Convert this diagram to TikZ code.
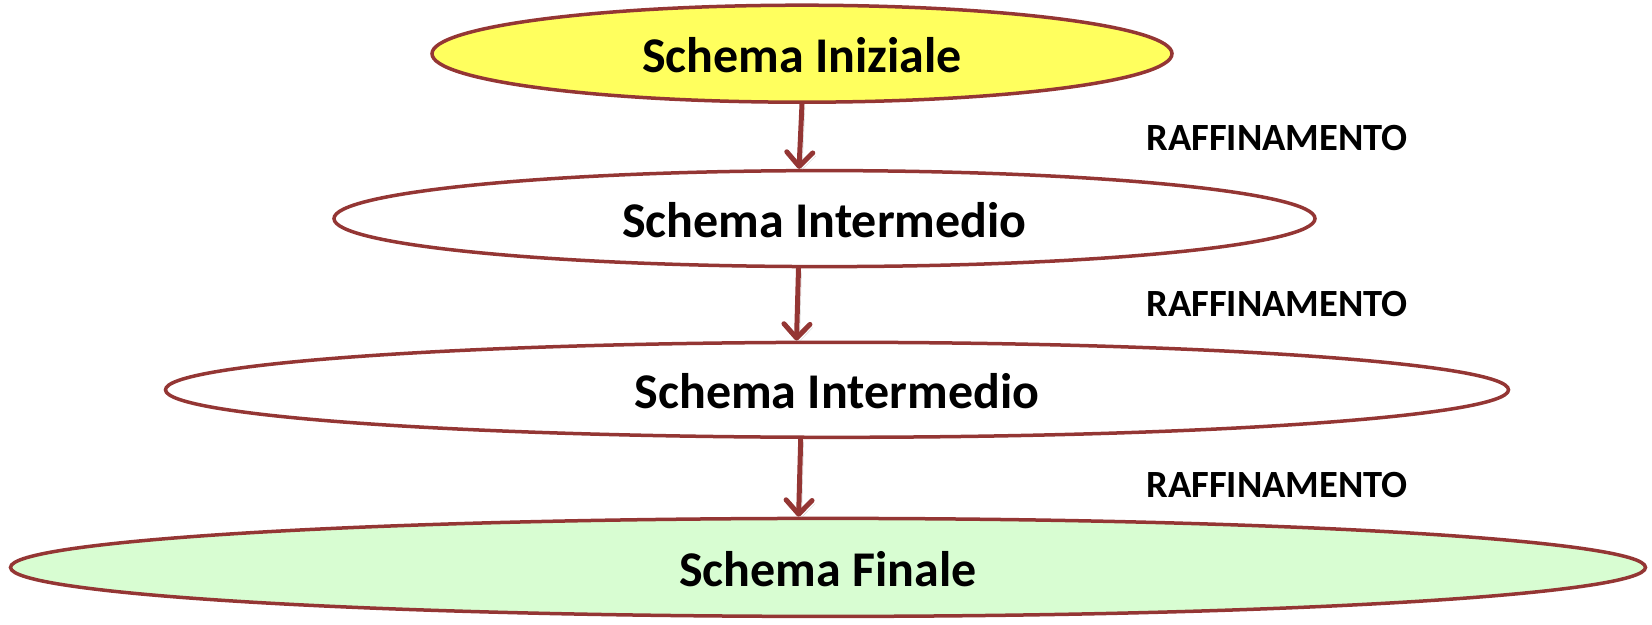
\documentclass[tikz,border=0pt]{standalone}
\usepackage{fontspec}
\setmainfont{Carlito}
\usetikzlibrary{shapes.geometric,arrows.meta}
\definecolor{edgered}{HTML}{943634}
\definecolor{yfill}{HTML}{FFFF5E}
\definecolor{gfill}{HTML}{D8FDD2}
\tikzset{
  schemabox/.style={ellipse, draw=edgered, line width=3.5pt, inner sep=0pt,
    font=\fontsize{50}{60}\selectfont\bfseries, text height=38pt, text depth=0pt},
  refarrow/.style={draw=edgered, line width=5pt, line cap=round, line join=round,
    -{Straight Barb[length=14pt,width=26pt,line cap=round,line join=round]},
    preaction={draw=black!35, opacity=0.5, transform canvas={shift={(3pt,-3pt)}}}},
  steplabel/.style={font=\fontsize{38.5}{46}\selectfont\bfseries, inner sep=0pt}
}
\begin{document}
\begin{tikzpicture}[x=1pt,y=-1pt]
\useasboundingbox (0,0) rectangle (1652,624);
\node[schemabox, fill=yfill, minimum width=740, minimum height=97] (a) at (802,53.7) {Schema Iniziale};
\node[schemabox, fill=white, minimum width=981, minimum height=96] (b) at (824.5,218.6) {Schema Intermedio};
\node[schemabox, fill=white, minimum width=1343, minimum height=95] (c) at (837,389.8) {Schema Intermedio};
\node[schemabox, fill=gfill, minimum width=1635, minimum height=98] (d) at (828,567.4) {Schema Finale};
\draw[refarrow] (a.south) -- ([xshift=-25.5pt]b.north);
\draw[refarrow] ([xshift=-26pt]b.south) -- ([xshift=-40.5pt]c.north);
\draw[refarrow] ([xshift=-36.3pt]c.south) -- ([xshift=-29.4pt]d.north);
\node[steplabel] (r1) at (1277,138) {RAFFINAMENTO};
\node[steplabel] (r2) at (1277,304.5) {RAFFINAMENTO};
\node[steplabel] (r3) at (1277,484.7) {RAFFINAMENTO};
\end{tikzpicture}
\end{document}
